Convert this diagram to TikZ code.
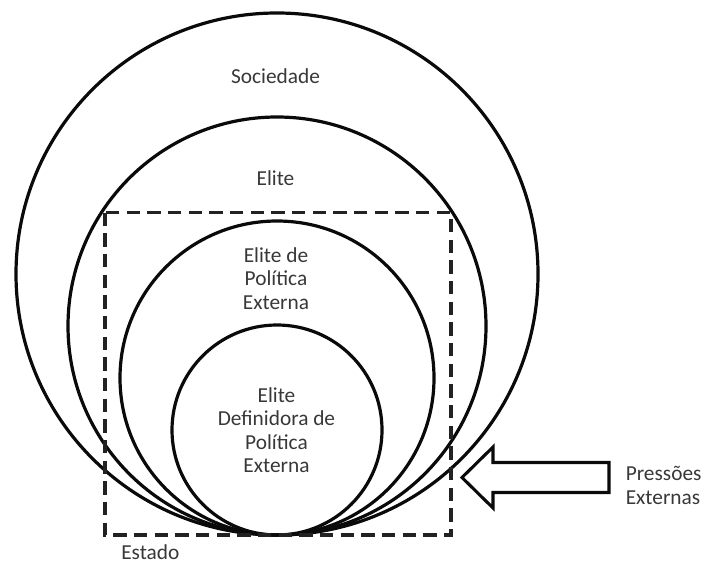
\documentclass[tikz,border=0pt]{standalone}
\usepackage{fontspec}
\setmainfont{Carlito}
\usetikzlibrary{calc}
\definecolor{ink}{HTML}{0A0A0A}
\definecolor{label}{HTML}{383838}

\begin{document}
\begin{tikzpicture}[
    x=0.75pt, y=-0.75pt,
    font=\fontsize{16}{17.5}\selectfont,
    ring/.style={ink, line width=2.4pt},
    state/.style={ink!90, line width=2.3pt, dash pattern=on 10pt off 5.5pt},
    tag/.style={text=label, align=center, inner sep=0pt},
    push/.style={ink, line width=2.3pt, line join=miter, fill=white}
]
\useasboundingbox (0,0) rectangle (702,563);

% all circles touch at one point
\coordinate (base) at (277,535);
\foreach \r in {261,209,157,105}{
    \draw[ring] ($(base)+(0,-\r)$) circle[radius=\r];
}

\draw[state] (105,212.5) rectangle (451,535);

\node[tag, anchor=base] (sociedade) at (275.5,84) {Sociedade};
\node[tag, anchor=base] (elite) at (275.5,185) {Elite};
\node[tag] (eliteExterna) at (276,278.5) {Elite de\\Política\\Externa};
\node[tag] (eliteDefinidora) at (276.5,430) {Elite\\Definidora de\\Política\\Externa};
\node[tag, anchor=base west] (estado) at (121,559) {Estado};

% external pressure arrow
\draw[push] (462,477.5) -- (493,447) -- (493,462.5) -- (609,462.5)
    -- (609,492.5) -- (493,492.5) -- (493,508) -- cycle;
\node[tag, anchor=west, align=left] (pressoes) at (625.5,485.5) {Pressões\\Externas};

\end{tikzpicture}
\end{document}
